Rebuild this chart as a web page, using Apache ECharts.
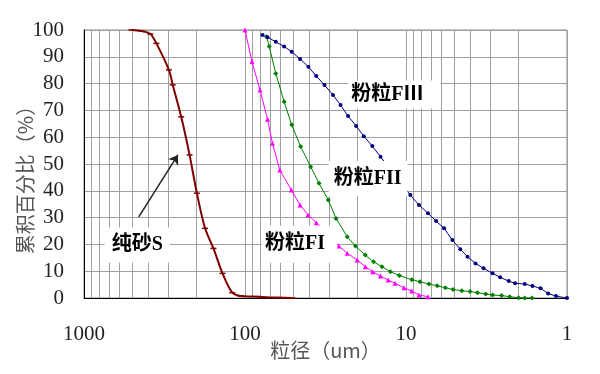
<!DOCTYPE html>
<html><head><meta charset="utf-8">
<script src="https://cdn.jsdelivr.net/npm/echarts@6/dist/echarts.min.js"></script>
<style>html,body{margin:0;padding:0;background:#fff}#c{width:600px;height:374px}</style>
</head><body><div id="c"></div>
<script>
// ---- data (particle size in um, cumulative %) ----
const sizeS = [507, 440, 387, 355, 297, 281, 249, 221, 199, 177, 157, 138, 120, 106, 82, 75, 51];
const pctS  = [100, 99.6, 98.5, 95.0, 85.1, 79.5, 67.6, 53.4, 39.1, 26.0, 18.5, 9.2, 2.0, 0.75, 0.5, 0.3, 0];

const sizeF1 = [100, 90.5, 80.7, 72.5, 67.5, 60.8, 51.5, 45.5, 40.6, 36.1, 33.1, 26.1, 23.2, 20.1, 17.9, 16.1, 14.4, 12.9, 11.7, 10.3, 9.2, 8.3, 7.3];
const pctF1  = [100, 88.2, 77.6, 66.7, 57.7, 47.8, 40.3, 34.7, 31.0, 28.1, 26.0, 19.4, 16.7, 14.2, 11.7, 9.8, 8.2, 6.7, 5.5, 3.8, 2.6, 1.1, 0.5];

const sizeF2 = [73.4, 70.7, 64.4, 57.1, 51.3, 45.1, 39.1, 34.7, 30.4, 27.2, 23.2, 20.6, 17.9, 15.9, 14.1, 12.5, 11.0, 9.2, 8.2, 7.2, 6.4, 5.7, 5.1, 4.5, 4.0, 3.6, 3.2, 2.9, 2.55, 2.27, 2.0, 1.83, 1.65];
const pctF2  = [97.5, 93.8, 83.8, 73.2, 64.6, 56.5, 49.0, 42.8, 36.6, 29.7, 22.9, 19.4, 16.0, 13.5, 11.7, 9.8, 8.4, 6.8, 6.1, 5.2, 4.6, 3.8, 3.2, 2.7, 2.4, 2.0, 1.5, 1.1, 0.9, 0.5, 0.1, 0, 0];

const sizeF3 = [77.8, 72.5, 64.4, 57.1, 51.3, 45.5, 40.4, 36.1, 32.1, 28.4, 25.5, 22.9, 20.4, 18.3, 16.2, 14.4, 9.4, 8.3, 7.3, 6.5, 5.8, 5.15, 4.6, 4.15, 3.7, 3.3, 2.9, 2.6, 2.3, 2.1, 1.83, 1.64, 1.46, 1.31, 1.17, 1.0];
const pctF3  = [98.1, 97.3, 95.6, 93.8, 91.9, 89.2, 86.3, 82.8, 79.5, 75.7, 72.0, 67.9, 64.2, 60.4, 56.7, 52.7, 38.4, 34.7, 31.6, 28.7, 26.0, 21.6, 18.2, 15.4, 12.9, 11.1, 9.2, 7.7, 6.3, 5.5, 5.2, 4.5, 3.6, 1.7, 0.7, 0];

const xTicks = [1, 10, 100, 1000];
const minorGrid = [2,3,4,5,6,7,8,9,20,30,40,50,60,70,80,90,200,300,400,500,600,700,800,900];

const labelS  = {text: '纯砂S',  at: [467, 19.8]};
const labelF1 = {text: '粉粒FI',  at: [45.9, 20.1]};
const labelF2 = {text: '粉粒FII', at: [17.2, 44.6]};
const labelF3 = {text: '粉粒FⅢ', at: [11.8, 75.9]};
const arrowS  = {from: [457, 30.3], to: [261, 53.4]};

const zip = (a, b) => a.map((v, i) => [v, b[i]]);
const FONT_NUM = 'Liberation Serif';
const FONT_CJK = 'Liberation Serif, Noto Sans CJK SC';

function annot(l, pad) {
  return {
    symbol: 'circle', symbolSize: 0, silent: true,
    itemStyle: {color: 'rgba(0,0,0,0)'},
    label: {show: true, position: 'inside', formatter: l.text, color: '#000',
      fontSize: 20, fontWeight: 'bold', fontFamily: FONT_CJK,
      backgroundColor: '#fff', padding: pad},
    data: [{coord: l.at}]
  };
}

const chart = echarts.init(document.getElementById('c'), null, {renderer: 'canvas'});
chart.setOption({
  animation: false,
  backgroundColor: '#fff',
  grid: {left: 84, right: 33, top: 30, bottom: 76, show: true, borderColor: '#888', borderWidth: 1,
    containLabel: false, outerBoundsMode: 'none'},
  xAxis: {
    type: 'log', logBase: 10, min: 1, max: 1000, inverse: true,
    axisLine: {show: true, lineStyle: {color: '#000', width: 1}},
    axisTick: {show: false},
    axisLabel: {color: '#222', fontSize: 21, fontFamily: FONT_NUM, margin: 26,
      formatter: v => xTicks.includes(Math.round(v)) ? String(Math.round(v)) : ''},
    splitLine: {show: true, lineStyle: {color: '#a0a0a0', width: 1}},
    name: '粒径（um）', nameLocation: 'middle', nameGap: 42, nameMoveOverlap: false,
    nameTextStyle: {color: '#555', fontSize: 20, fontFamily: 'Noto Sans CJK SC'}
  },
  yAxis: {
    type: 'value', min: 0, max: 100, interval: 10,
    axisLine: {show: true, lineStyle: {color: '#000', width: 1}},
    axisTick: {show: false},
    axisLabel: {color: '#222', fontSize: 21, fontFamily: FONT_NUM, margin: 20},
    splitLine: {show: true, lineStyle: {color: '#a0a0a0', width: 1}},
    name: '累积百分比（%）', nameLocation: 'middle', nameGap: 49, nameRotate: 90, nameMoveOverlap: false,
    nameTextStyle: {color: '#555', fontSize: 20, fontFamily: 'Noto Sans CJK SC', padding: [0, 22, 0, 0]}
  },
  series: [
    {
      name: 'S', type: 'line', data: zip(sizeS, pctS), smooth: 0.3,
      symbol: 'rect', symbolSize: [6, 1.5], showSymbol: true,
      lineStyle: {color: '#800000', width: 2}, itemStyle: {color: '#800000'}, z: 3,
      markLine: {
        silent: true, symbol: ['none', 'arrow'], symbolSize: 9, z: 6,
        lineStyle: {color: '#222', width: 1.5, type: 'solid'}, label: {show: false},
        data: [[{coord: arrowS.from}, {coord: arrowS.to}]]
      },
      markPoint: annot(labelS, [8, 7, 7, 7])
    },
    {
      name: 'FI', type: 'line', data: zip(sizeF1, pctF1),
      symbol: 'triangle', symbolSize: 5,
      lineStyle: {color: '#ff00ff', width: 1}, itemStyle: {color: '#ff00ff'}, z: 3,
      markPoint: annot(labelF1, [10, 12, 7, 3])
    },
    {
      name: 'FII', type: 'line', data: zip(sizeF2, pctF2),
      symbol: 'diamond', symbolSize: 5,
      lineStyle: {color: '#008000', width: 1}, itemStyle: {color: '#008000'}, z: 3,
      markPoint: annot(labelF2, [11, 6, 4, 5])
    },
    {
      name: 'FIII', type: 'line', data: zip(sizeF3, pctF3),
      symbol: 'circle', symbolSize: 4,
      lineStyle: {color: '#000080', width: 1}, itemStyle: {color: '#000080'}, z: 3,
      markPoint: annot(labelF3, [5, 17, 3, 3]),
      markLine: {
        silent: true, symbol: ['none', 'none'], z: 1,
        lineStyle: {color: '#a0a0a0', width: 1, type: 'solid'}, label: {show: false},
        emphasis: {disabled: true},
        data: minorGrid.map(v => ({xAxis: v}))
      }
    }
  ]
});
</script>
</body></html>
